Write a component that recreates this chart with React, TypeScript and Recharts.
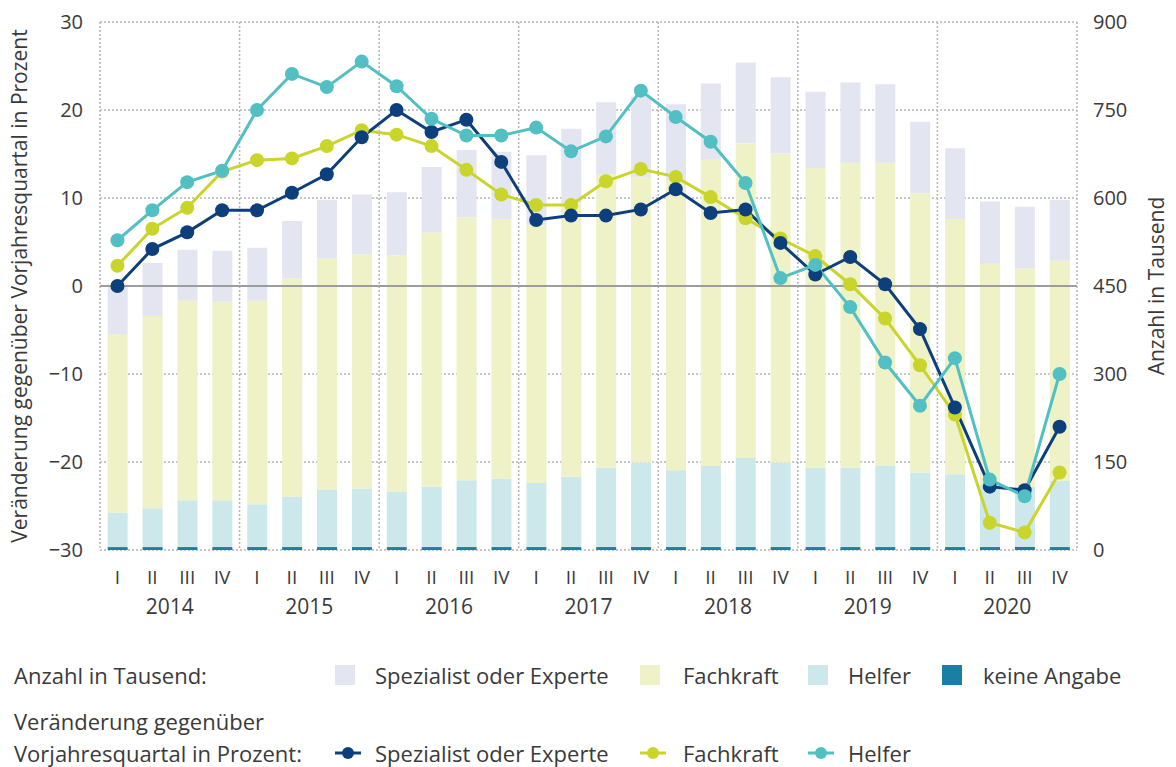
import React from "react";
import {
  ComposedChart,
  Bar,
  Line,
  XAxis,
  YAxis,
  CartesianGrid,
  ReferenceLine,
} from "recharts";

const quartale = [
  "I", "II", "III", "IV", "I", "II", "III", "IV", "I", "II", "III", "IV", "I", "II",
  "III", "IV", "I", "II", "III", "IV", "I", "II", "III", "IV", "I", "II", "III", "IV",
];
const jahre = ["2014", "2015", "2016", "2017", "2018", "2019", "2020"];

// Bestand in Tausend (gestapelt)
const keineAngabe = [5, 5, 5, 5, 5, 5, 5, 5, 5, 5, 5, 5, 5, 5, 5, 5, 5, 5, 5, 5, 5, 5, 5, 5, 5, 5, 5, 5];
const helferAnz = [59, 66, 80, 80, 73, 86, 98, 100, 94, 103, 114, 117, 109, 120, 135, 144, 131, 138, 152, 144, 135, 135, 139, 127, 124, 107, 103, 113];
const fachkraftAnz = [304, 328, 340, 338, 347, 372, 394, 399, 403, 433, 448, 442, 440, 466, 501, 487, 495, 522, 536, 527, 511, 520, 516, 476, 435, 376, 372, 375];
const spezialistAnz = [84, 90, 87, 87, 90, 98, 100, 102, 108, 112, 115, 115, 119, 127, 122, 137, 129, 130, 138, 130, 130, 137, 134, 122, 121, 106, 105, 104];

// Veränderung gegenüber Vorjahresquartal in Prozent
const spezialistPct = [0.0, 4.2, 6.1, 8.6, 8.6, 10.6, 12.7, 16.9, 20.0, 17.5, 18.9, 14.1, 7.5, 8.0, 8.0, 8.7, 11.0, 8.3, 8.7, 4.9, 1.3, 3.3, 0.2, -4.9, -13.8, -22.8, -23.2, -16.0];
const fachkraftPct = [2.3, 6.5, 8.9, 13.0, 14.3, 14.5, 15.9, 17.7, 17.2, 15.9, 13.2, 10.4, 9.2, 9.2, 11.9, 13.3, 12.4, 10.1, 7.7, 5.4, 3.4, 0.2, -3.7, -9.0, -14.6, -26.9, -28.0, -21.2];
const helferPct = [5.2, 8.6, 11.8, 13.1, 20.0, 24.1, 22.6, 25.5, 22.7, 19.0, 17.1, 17.1, 18.0, 15.3, 17.0, 22.2, 19.2, 16.4, 11.7, 0.9, 2.4, -2.4, -8.7, -13.6, -8.2, -22.0, -23.9, -10.0];

const pctTicks = [-30, -20, -10, 0, 10, 20, 30];
const anzTicks = [0, 150, 300, 450, 600, 750, 900];

const data = quartale.map((q, i) => ({
  key: `${jahre[Math.floor(i / 4)]}-${q}`,
  q,
  jahr: jahre[Math.floor(i / 4)],
  keine: keineAngabe[i],
  helfer: helferAnz[i],
  fachkraft: fachkraftAnz[i],
  spezialist: spezialistAnz[i],
  spezPct: spezialistPct[i],
  fachPct: fachkraftPct[i],
  helfPct: helferPct[i],
}));

const FONT = "'Open Sans', 'Noto Sans', sans-serif";
const TXT = "#3a3a3a";

const CHART_W = 1176;
const CHART_H = 625;
const LEFT_W = 100;
const RIGHT_W = 99;
const STEP = (CHART_W - LEFT_W - RIGHT_W) / quartale.length;

const C = {
  spezBar: "#e3e5f1",
  fachBar: "#eef2c6",
  helfBar: "#cde8ea",
  keineBar: "#1a7fa3",
  spez: "#0d3f7c",
  fach: "#c9d52b",
  helf: "#52c0c3",
};

function QuartalTick(props: any) {
  const { x, y, payload, index } = props;
  const q = quartale[index] ?? payload.value;
  return (
    <g>
      <text x={x} y={y + 34} textAnchor="middle" fill={TXT} fontSize={19} fontFamily={FONT}>
        {q}
      </text>
      {q === "II" && (
        <text x={x + STEP / 2} y={y + 64} textAnchor="middle" fill={TXT} fontSize={21} fontFamily={FONT}>
          {jahre[Math.floor(index / 4)]}
        </text>
      )}
    </g>
  );
}

function Swatch({ color }: { color: string }) {
  return <span style={{ display: "block", width: 20, height: 20, background: color }} />;
}

function LineSwatch({ color }: { color: string }) {
  return (
    <svg width={26} height={14} style={{ display: "block" }}>
      <line x1={0} y1={7} x2={26} y2={7} stroke={color} strokeWidth={3} />
      <circle cx={13} cy={7} r={6} fill={color} />
    </svg>
  );
}

const legendText: React.CSSProperties = {
  position: "absolute",
  fontFamily: FONT,
  fontSize: 22,
  color: TXT,
  lineHeight: "24px",
  whiteSpace: "nowrap",
};

export default function App() {
  return (
    <div style={{ position: "absolute", left: 0, top: 0, width: 1176, height: 767, background: "#fff" }}>
      <ComposedChart
        width={CHART_W}
        height={CHART_H}
        data={data}
        margin={{ top: 22, right: 0, left: 0, bottom: 0 }}
        barCategoryGap="22%"
      >
        <CartesianGrid
          yAxisId="pct"
          stroke="#b5b5b5"
          strokeDasharray="2 2"
          strokeWidth={1.5}
          verticalCoordinatesGenerator={({ offset }: any) =>
            [0, 1, 2, 3, 4, 5, 6, 7].map((k) => offset.left + (k * offset.width) / 7)
          }
        />
        <XAxis
          dataKey="key"
          height={CHART_H - 22 - 528}
          axisLine={false}
          tickLine={false}
          tickSize={0}
          tickMargin={0}
          interval={0}
          tick={<QuartalTick />}
        />
        <YAxis
          yAxisId="pct"
          orientation="left"
          width={LEFT_W}
          domain={[-30, 30]}
          ticks={pctTicks}
          axisLine={false}
          tickLine={false}
          tickMargin={11}
          tickFormatter={(v: number) => (v < 0 ? `\u2212${Math.abs(v)}` : `${v}`)}
          tick={{ fill: TXT, fontSize: 20, fontFamily: FONT }}
          label={{
            value: "Veränderung gegenüber Vorjahresquartal in Prozent",
            angle: -90,
            position: "insideLeft",
            offset: 20,
            style: { fill: TXT, fontSize: 21, fontFamily: FONT, textAnchor: "middle" },
          }}
        />
        <YAxis
          yAxisId="cnt"
          orientation="right"
          width={RIGHT_W}
          domain={[0, 900]}
          ticks={anzTicks}
          axisLine={false}
          tickLine={false}
          tickMargin={10}
          tick={{ fill: TXT, fontSize: 20, fontFamily: FONT }}
          label={{
            value: "Anzahl in Tausend",
            angle: -90,
            position: "insideRight",
            offset: 19,
            style: { fill: TXT, fontSize: 21, fontFamily: FONT, textAnchor: "middle" },
          }}
        />
        <Bar yAxisId="cnt" dataKey="keine" stackId="a" fill={C.keineBar} isAnimationActive={false} />
        <Bar yAxisId="cnt" dataKey="helfer" stackId="a" fill={C.helfBar} isAnimationActive={false} />
        <Bar yAxisId="cnt" dataKey="fachkraft" stackId="a" fill={C.fachBar} isAnimationActive={false} />
        <Bar yAxisId="cnt" dataKey="spezialist" stackId="a" fill={C.spezBar} isAnimationActive={false} />
        <ReferenceLine yAxisId="pct" y={0} stroke="#9d9d9d" strokeWidth={2} />
        <Line
          yAxisId="pct"
          dataKey="fachPct"
          stroke={C.fach}
          strokeWidth={3}
          dot={{ r: 7, fill: C.fach, stroke: "none" }}
          activeDot={false}
          isAnimationActive={false}
        />
        <Line
          yAxisId="pct"
          dataKey="spezPct"
          stroke={C.spez}
          strokeWidth={3}
          dot={{ r: 7, fill: C.spez, stroke: "none" }}
          activeDot={false}
          isAnimationActive={false}
        />
        <Line
          yAxisId="pct"
          dataKey="helfPct"
          stroke={C.helf}
          strokeWidth={3}
          dot={{ r: 7, fill: C.helf, stroke: "none" }}
          activeDot={false}
          isAnimationActive={false}
        />
      </ComposedChart>

      {/* Legende */}
      <div style={{ ...legendText, left: 14, top: 663 }}>Anzahl in Tausend:</div>
      <div style={{ position: "absolute", left: 335, top: 665 }}><Swatch color={C.spezBar} /></div>
      <div style={{ ...legendText, left: 375, top: 663 }}>Spezialist oder Experte</div>
      <div style={{ position: "absolute", left: 640, top: 665 }}><Swatch color={C.fachBar} /></div>
      <div style={{ ...legendText, left: 683, top: 663 }}>Fachkraft</div>
      <div style={{ position: "absolute", left: 808, top: 665 }}><Swatch color={C.helfBar} /></div>
      <div style={{ ...legendText, left: 848, top: 663 }}>Helfer</div>
      <div style={{ position: "absolute", left: 942, top: 665 }}><Swatch color={C.keineBar} /></div>
      <div style={{ ...legendText, left: 983, top: 663 }}>keine Angabe</div>

      <div style={{ ...legendText, left: 14, top: 709 }}>Veränderung gegenüber</div>
      <div style={{ ...legendText, left: 14, top: 741 }}>Vorjahresquartal in Prozent:</div>
      <div style={{ position: "absolute", left: 335, top: 746 }}><LineSwatch color={C.spez} /></div>
      <div style={{ ...legendText, left: 375, top: 741 }}>Spezialist oder Experte</div>
      <div style={{ position: "absolute", left: 640, top: 746 }}><LineSwatch color={C.fach} /></div>
      <div style={{ ...legendText, left: 683, top: 741 }}>Fachkraft</div>
      <div style={{ position: "absolute", left: 808, top: 746 }}><LineSwatch color={C.helf} /></div>
      <div style={{ ...legendText, left: 848, top: 741 }}>Helfer</div>
    </div>
  );
}
